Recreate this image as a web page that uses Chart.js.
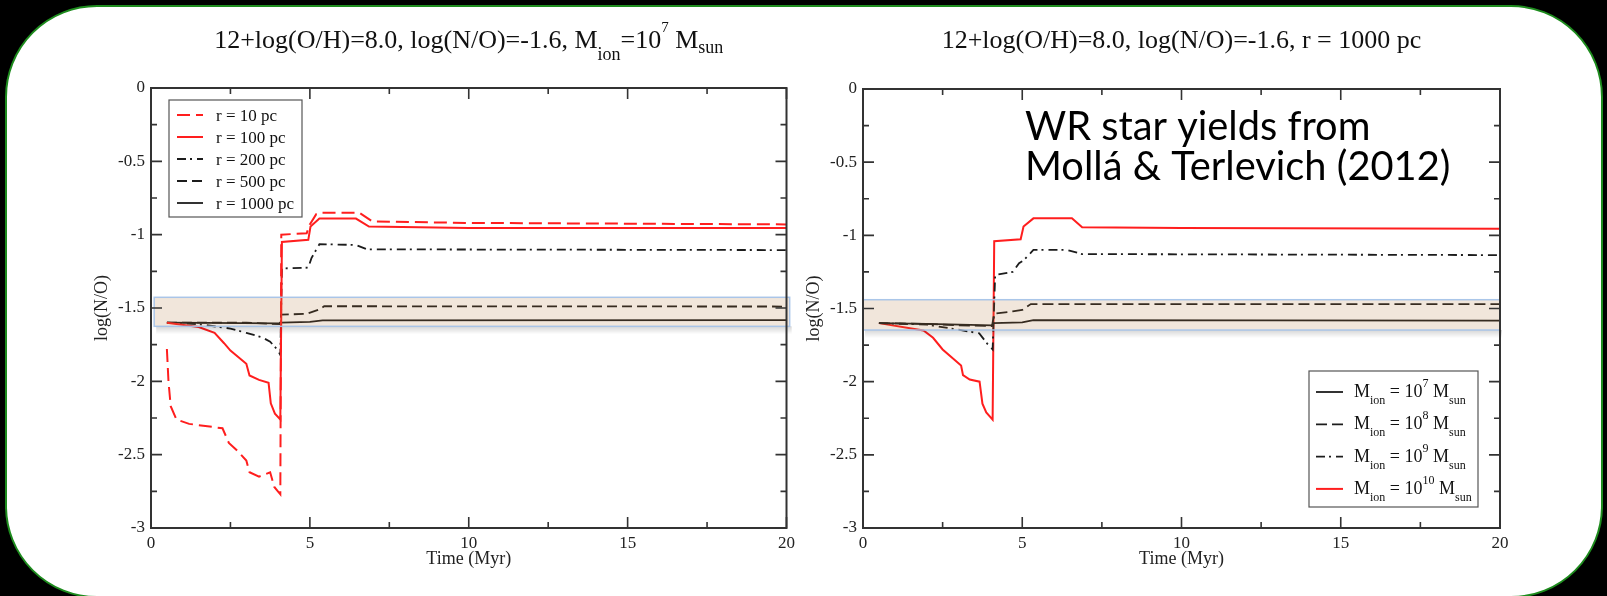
<!DOCTYPE html>
<html>
<head>
<meta charset="utf-8">
<script src="https://cdn.jsdelivr.net/npm/chart.js@4.4.1/dist/chart.umd.min.js"></script>
<style>
    html, body { margin: 0; padding: 0; background: #000; }
    body { width: 1607px; height: 596px; position: relative; overflow: hidden; }
    #panel { position: absolute; left: 5px; top: 5px; width: 1594px; height: 589px; background: #fff; border: 2px solid #1e8c1e; border-radius: 92px; }
    #leftChart { position: absolute; left: 0; top: 0; }
    #rightChart { position: absolute; left: 800px; top: 0; }
</style>
</head>
<body>
<div id="panel"></div>
<canvas id="leftChart" width="800" height="596"></canvas>
<canvas id="rightChart" width="807" height="596"></canvas>
<script>
// left panel: Mion = 1e7 Msun, different radii
const timeR10 = [0.5, 0.55, 0.62, 0.8, 1.2, 2.25, 2.45, 2.7, 3.0, 3.1, 3.4, 3.75, 3.88, 4.07, 4.1, 4.9, 5.0, 5.2, 5.35, 6.55, 6.97, 10, 20];
const logNO_R10 = [-1.78, -2.0, -2.17, -2.26, -2.29, -2.32, -2.42, -2.47, -2.54, -2.62, -2.65, -2.62, -2.72, -2.77, -1.0, -0.99, -0.93, -0.86, -0.85, -0.85, -0.91, -0.92, -0.93];

const timeR100 = [0.5, 1.5, 2.0, 2.3, 2.5, 3.0, 3.1, 3.4, 3.7, 3.77, 3.9, 4.07, 4.12, 4.95, 5.02, 5.3, 6.45, 6.86, 10, 20];
const logNO_R100 = [-1.6, -1.63, -1.67, -1.74, -1.79, -1.88, -1.96, -1.99, -2.01, -2.15, -2.22, -2.26, -1.05, -1.035, -0.945, -0.89, -0.89, -0.945, -0.955, -0.955];

const timeR200 = [0.5, 1.5, 2.5, 3.0, 3.5, 3.75, 4.0, 4.07, 4.12, 4.95, 5.05, 5.3, 6.45, 6.8, 20];
const logNO_R200 = [-1.6, -1.61, -1.64, -1.67, -1.7, -1.73, -1.79, -1.82, -1.23, -1.225, -1.16, -1.065, -1.07, -1.1, -1.105];

const timeR500 = [0.5, 3.0, 4.05, 4.1, 4.9, 5.3, 5.45, 20];
const logNO_R500 = [-1.6, -1.6, -1.61, -1.545, -1.54, -1.51, -1.488, -1.49];

const timeR1000 = [0.5, 4.05, 4.1, 5.0, 5.4, 20];
const logNO_R1000 = [-1.6, -1.605, -1.6, -1.595, -1.585, -1.583];

// right panel: r = 1000 pc, different ionised masses
const timeM7 = [0.5, 2.0, 4.05, 4.1, 5.0, 5.35, 20];
const logNO_M7 = [-1.6, -1.605, -1.615, -1.6, -1.595, -1.58, -1.583];

const timeM8 = [0.5, 2.0, 3.0, 4.05, 4.12, 4.7, 5.0, 5.27, 20];
const logNO_M8 = [-1.6, -1.605, -1.615, -1.62, -1.535, -1.52, -1.51, -1.47, -1.47];

const timeM9 = [0.5, 2.0, 3.0, 3.65, 3.9, 4.07, 4.15, 4.7, 4.9, 5.05, 5.35, 6.4, 6.88, 20];
const logNO_M9 = [-1.6, -1.61, -1.645, -1.67, -1.74, -1.78, -1.27, -1.25, -1.19, -1.17, -1.1, -1.1, -1.128, -1.135];

const timeM10 = [0.5, 1.9, 2.2, 2.5, 3.08, 3.14, 3.35, 3.66, 3.75, 3.87, 4.07, 4.12, 4.95, 5.04, 5.35, 6.56, 6.88, 10, 20];
const logNO_M10 = [-1.6, -1.65, -1.7, -1.78, -1.89, -1.955, -1.985, -2.0, -2.15, -2.21, -2.26, -1.04, -1.027, -0.94, -0.884, -0.884, -0.945, -0.95, -0.955];

const radiusLabels = ['r = 10 pc', 'r = 100 pc', 'r = 200 pc', 'r = 500 pc', 'r = 1000 pc'];
const massExponents = ['7', '8', '9', '10'];

// highlighted observed band (x range, log(N/O) range)
const bandLeftX = [0.1, 20.1];
const bandLeftY = [-1.625, -1.427];
const bandRightX = [0, 20];
const bandRightY = [-1.647, -1.44];

const serif = '"Liberation Serif", "Times New Roman", serif';
const RED = '#ff1e1e';
const BLACK = '#1c1c1c';

function pts(xs, ys) {
    return xs.map((x, i) => ({ x: x, y: ys[i] }));
}

function line(label, xs, ys, color, dash, width) {
    return {
        label: label,
        data: pts(xs, ys),
        showLine: true,
        borderColor: color,
        borderWidth: width,
        borderDash: dash,
        pointRadius: 0,
        tension: 0,
        fill: false
    };
}

// text made of pieces with sub/superscripts
function drawRuns(ctx, runs, x, y, align) {
    let w = 0;
    runs.forEach(r => {
        ctx.font = r.size + 'px ' + serif;
        w += ctx.measureText(r.t).width;
    });
    let cx = align === 'center' ? x - w / 2 : x;
    ctx.textAlign = 'left';
    ctx.textBaseline = 'alphabetic';
    runs.forEach(r => {
        ctx.font = r.size + 'px ' + serif;
        ctx.fillText(r.t, cx, y + (r.dy || 0));
        cx += ctx.measureText(r.t).width;
    });
}

const framePlugin = {
    id: 'frame',
    afterDraw(chart, args, opts) {
        const ctx = chart.ctx;
        const a = chart.chartArea;
        const xs = chart.scales.x, ys = chart.scales.y;
        ctx.save();

        // band with a soft shadow underneath
        const bx0 = xs.getPixelForValue(opts.bandX[0]);
        const bx1 = xs.getPixelForValue(opts.bandX[1]);
        const by0 = ys.getPixelForValue(opts.bandY[1]);
        const by1 = ys.getPixelForValue(opts.bandY[0]);
        const g = ctx.createLinearGradient(0, by1, 0, by1 + 8);
        g.addColorStop(0, 'rgba(0,0,0,0.16)');
        g.addColorStop(1, 'rgba(0,0,0,0)');
        ctx.fillStyle = g;
        ctx.fillRect(bx0 + 2, by1, bx1 - bx0, 8);
        ctx.fillStyle = 'rgba(175,115,55,0.18)';
        ctx.fillRect(bx0, by0, bx1 - bx0, by1 - by0);
        ctx.strokeStyle = 'rgba(165,195,232,0.95)';
        ctx.lineWidth = 1.5;
        ctx.strokeRect(bx0, by0, bx1 - bx0, by1 - by0);

        // box and inward ticks
        ctx.strokeStyle = '#333';
        ctx.lineWidth = 2;
        ctx.strokeRect(a.left, a.top, a.right - a.left, a.bottom - a.top);
        ctx.lineWidth = 1.6;
        ctx.beginPath();
        const xt = xs.ticks.map(t => t.value);
        xt.forEach((v, i) => {
            const px = xs.getPixelForValue(v);
            ctx.moveTo(px, a.bottom); ctx.lineTo(px, a.bottom - 11);
            ctx.moveTo(px, a.top); ctx.lineTo(px, a.top + 11);
            if (i < xt.length - 1) {
                const mx = xs.getPixelForValue((v + xt[i + 1]) / 2);
                ctx.moveTo(mx, a.bottom); ctx.lineTo(mx, a.bottom - 6);
                ctx.moveTo(mx, a.top); ctx.lineTo(mx, a.top + 6);
            }
        });
        const yt = ys.ticks.map(t => t.value);
        yt.forEach((v, i) => {
            const py = ys.getPixelForValue(v);
            ctx.moveTo(a.left, py); ctx.lineTo(a.left + 11, py);
            ctx.moveTo(a.right, py); ctx.lineTo(a.right - 11, py);
            if (i < yt.length - 1) {
                const my = ys.getPixelForValue((v + yt[i + 1]) / 2);
                ctx.moveTo(a.left, my); ctx.lineTo(a.left + 6, my);
                ctx.moveTo(a.right, my); ctx.lineTo(a.right - 6, my);
            }
        });
        ctx.stroke();

        // legend
        const lg = opts.legend;
        ctx.fillStyle = '#fff';
        ctx.fillRect(lg.x, lg.y, lg.w, lg.h);
        ctx.strokeStyle = '#555';
        ctx.lineWidth = 1.2;
        ctx.strokeRect(lg.x, lg.y, lg.w, lg.h);
        chart.data.datasets.forEach((ds, i) => {
            const ry = lg.y + lg.first + i * lg.step;
            ctx.strokeStyle = ds.borderColor;
            ctx.lineWidth = ds.borderWidth;
            ctx.setLineDash(ds.borderDash);
            ctx.beginPath();
            ctx.moveTo(lg.x + lg.sx0, ry);
            ctx.lineTo(lg.x + lg.sx1, ry);
            ctx.stroke();
            ctx.setLineDash([]);
            ctx.fillStyle = '#111';
            drawRuns(ctx, lg.runs(ds, i), lg.x + lg.tx, ry + lg.base, 'left');
        });

        // title
        ctx.fillStyle = '#111';
        drawRuns(ctx, opts.title, (a.left + a.right) / 2, 48, 'center');

        // note text
        if (opts.note) {
            ctx.fillStyle = '#000';
            ctx.font = '40px Lato';
            const w = ctx.measureText(opts.note[1]).width;
            ctx.font = (40 * 425 / w).toFixed(1) + 'px Lato';
            ctx.textAlign = 'left';
            ctx.fillText(opts.note[0], 225, 140);
            ctx.fillText(opts.note[1], 225, 180);
        }
        ctx.restore();
    }
};

function scalesConfig(yWidth) {
    return {
        x: {
            type: 'linear',
            min: 0,
            max: 20,
            grid: { display: false, drawTicks: false },
            border: { display: false },
            ticks: { stepSize: 5, padding: 5, maxRotation: 0, color: '#222', font: { family: serif, size: 17 } },
            title: { display: true, text: 'Time (Myr)', color: '#222', font: { family: serif, size: 18 }, padding: { top: 0, bottom: 8 } },
            afterFit: s => { s.height = 50; }
        },
        y: {
            type: 'linear',
            min: -3,
            max: 0,
            grid: { display: false, drawTicks: false },
            border: { display: false },
            ticks: { stepSize: 0.5, padding: 6, color: '#222', font: { family: serif, size: 17 }, callback: v => String(v) },
            title: { display: true, text: 'log(N/O)', color: '#222', font: { family: serif, size: 18 }, padding: 0 },
            afterFit: s => { s.width = yWidth; }
        }
    };
}

// left chart
new Chart(document.getElementById('leftChart'), {
    type: 'scatter',
    data: {
        datasets: [
            line(radiusLabels[0], timeR10, logNO_R10, RED, [13, 6], 2),
            line(radiusLabels[1], timeR100, logNO_R100, RED, [], 2),
            line(radiusLabels[2], timeR200, logNO_R200, BLACK, [9, 4, 2, 5], 1.8),
            line(radiusLabels[3], timeR500, logNO_R500, BLACK, [10, 5], 1.8),
            line(radiusLabels[4], timeR1000, logNO_R1000, BLACK, [], 1.8)
        ]
    },
    options: {
        responsive: false,
        animation: false,
        layout: { padding: { left: 91, top: 88, right: 11, bottom: 18 } },
        scales: scalesConfig(60),
        plugins: {
            legend: { display: false },
            tooltip: { enabled: false },
            frame: {
                bandX: bandLeftX,
                bandY: bandLeftY,
                title: [
                    { t: '12+log(O/H)=8.0, log(N/O)=-1.6, M', size: 26 },
                    { t: 'ion', size: 18, dy: 12 },
                    { t: '=10', size: 26 },
                    { t: '7', size: 15, dy: -16 },
                    { t: ' M', size: 26 },
                    { t: 'sun', size: 18, dy: 5 }
                ],
                legend: {
                    x: 169, y: 100, w: 133, h: 117, first: 15, step: 22,
                    sx0: 8, sx1: 34, tx: 47, base: 6,
                    runs: ds => [{ t: ds.label, size: 17 }]
                }
            }
        }
    },
    plugins: [framePlugin]
});

// right chart
new Chart(document.getElementById('rightChart'), {
    type: 'scatter',
    data: {
        datasets: [
            line('Mion = 10^' + massExponents[0] + ' Msun', timeM7, logNO_M7, BLACK, [], 1.8),
            line('Mion = 10^' + massExponents[1] + ' Msun', timeM8, logNO_M8, BLACK, [11, 5], 1.8),
            line('Mion = 10^' + massExponents[2] + ' Msun', timeM9, logNO_M9, BLACK, [9, 4, 2, 5], 1.8),
            line('Mion = 10^' + massExponents[3] + ' Msun', timeM10, logNO_M10, RED, [], 2)
        ]
    },
    options: {
        responsive: false,
        animation: false,
        layout: { padding: { left: 3, top: 89, right: 107, bottom: 18 } },
        scales: scalesConfig(60),
        plugins: {
            legend: { display: false },
            tooltip: { enabled: false },
            frame: {
                bandX: bandRightX,
                bandY: bandRightY,
                title: [{ t: '12+log(O/H)=8.0, log(N/O)=-1.6, r = 1000 pc', size: 26 }],
                note: ['WR star yields from', 'Mollá & Terlevich (2012)'],
                legend: {
                    x: 509, y: 371, w: 169, h: 136, first: 21, step: 32.3,
                    sx0: 7, sx1: 34, tx: 45, base: 5,
                    runs: (ds, i) => [
                        { t: 'M', size: 18 },
                        { t: 'ion', size: 12, dy: 7 },
                        { t: ' = 10', size: 18 },
                        { t: massExponents[i], size: 12, dy: -10 },
                        { t: ' M', size: 18 },
                        { t: 'sun', size: 12, dy: 7 }
                    ]
                }
            }
        }
    },
    plugins: [framePlugin]
});
</script>
</body>
</html>
